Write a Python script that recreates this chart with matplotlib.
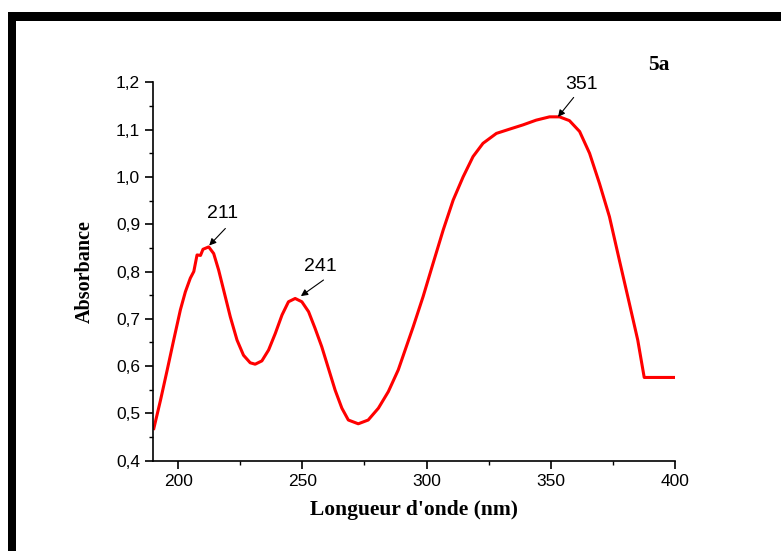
import matplotlib
matplotlib.use("Agg")
import matplotlib.pyplot as plt
from matplotlib.patches import Rectangle
from matplotlib.ticker import MultipleLocator, FormatStrFormatter, FuncFormatter

RED = "#FF0000"
SERIF = ["Liberation Serif", "DejaVu Serif"]
SANS = ["Liberation Sans", "DejaVu Sans"]

# values
wavelength = [190.2, 192.9, 195.6, 198.2, 200.9, 202.9, 204.9, 206.3, 207.6, 209.0,
              210.0, 212.3, 214.3, 216.3, 218.3, 221.0, 223.7, 226.3, 229.0, 231.0,
              233.7, 236.4, 239.1, 241.8, 244.4, 247.1, 249.8, 252.5, 255.1, 257.8,
              260.5, 263.2, 265.9, 268.5, 272.5, 276.5, 280.6, 284.6, 288.6, 294.6,
              298.6, 302.6, 306.7, 310.7, 314.7, 318.7, 322.7, 328.1, 333.4, 338.8,
              344.1, 349.5, 353.5, 357.5, 361.6, 365.6, 369.6, 373.6, 377.6, 381.6,
              385.0, 387.6, 400.0]
absorbance = [0.468, 0.528, 0.592, 0.655, 0.719, 0.757, 0.786, 0.800, 0.835, 0.834,
              0.847, 0.852, 0.838, 0.803, 0.761, 0.704, 0.655, 0.623, 0.607, 0.604,
              0.611, 0.634, 0.669, 0.708, 0.736, 0.743, 0.736, 0.715, 0.680, 0.641,
              0.595, 0.549, 0.511, 0.486, 0.478, 0.486, 0.511, 0.546, 0.592, 0.683,
              0.747, 0.817, 0.888, 0.951, 1.000, 1.043, 1.071, 1.092, 1.101, 1.110,
              1.120, 1.127, 1.127, 1.119, 1.096, 1.050, 0.986, 0.916, 0.824, 0.733,
              0.655, 0.576, 0.576]

peak_labels = ["211", "241", "351"]
arrow_tip = [(212.5, 0.855), (249.4, 0.748), (352.9, 1.127)]
arrow_tail = [(219.0, 0.891), (258.5, 0.782), (359.2, 1.168)]
label_xy = [(217.7, 0.923), (257.1, 0.810), (362.2, 1.196)]

fig = plt.figure(figsize=(7.81, 5.51), dpi=100)
ax = fig.add_axes([0.1963, 0.1639, 0.6680, 0.6867])

ax.plot(wavelength, absorbance, color=RED, lw=2.2, solid_joinstyle="round")

for text, tip, tail, txy in zip(peak_labels, arrow_tip, arrow_tail, label_xy):
    ax.annotate("", xy=tip, xytext=tail,
                arrowprops=dict(arrowstyle="-|>", color="black", lw=0.8,
                                mutation_scale=10, shrinkA=0, shrinkB=0))
    ax.text(txy[0], txy[1], text, ha="center", va="center", fontsize=14, family=SANS)

ax.text(393.7, 1.237, "5a", ha="center", va="center", fontsize=15.5,
        fontweight="bold", family=SERIF)

ax.set_xlim(190, 400)
ax.set_ylim(0.4, 1.2)
ax.xaxis.set_major_locator(MultipleLocator(50))
ax.xaxis.set_minor_locator(MultipleLocator(25))
ax.yaxis.set_major_locator(MultipleLocator(0.1))
ax.yaxis.set_minor_locator(MultipleLocator(0.05))
ax.yaxis.set_major_formatter(FuncFormatter(lambda v, p: f"{v:.1f}".replace(".", ",")))
ax.xaxis.set_major_formatter(FormatStrFormatter("%d"))

for side in ("top", "right"):
    ax.spines[side].set_visible(False)
for side in ("left", "bottom"):
    ax.spines[side].set_linewidth(1.2)
ax.tick_params(which="major", direction="out", length=6, width=1.2, labelsize=12.5)
ax.tick_params(which="minor", direction="out", length=3, width=1.0)
for lab in ax.get_xticklabels() + ax.get_yticklabels():
    lab.set_family(SANS)

ax.set_xlabel("Longueur d'onde (nm)", fontsize=15.5, fontweight="bold", family=SERIF, labelpad=8)
ax.set_ylabel("Absorbance", fontsize=14.5, fontweight="bold", family=SERIF, labelpad=15)

# thick frame on the left and top of the image
fig.add_artist(Rectangle((8 / 781, 0), 8 / 781, 1 - 12 / 551, transform=fig.transFigure,
                         facecolor="black", edgecolor="none"))
fig.add_artist(Rectangle((8 / 781, 1 - 21 / 551), 1, 9 / 551, transform=fig.transFigure,
                         facecolor="black", edgecolor="none"))

fig.savefig("out.png", dpi=100)
